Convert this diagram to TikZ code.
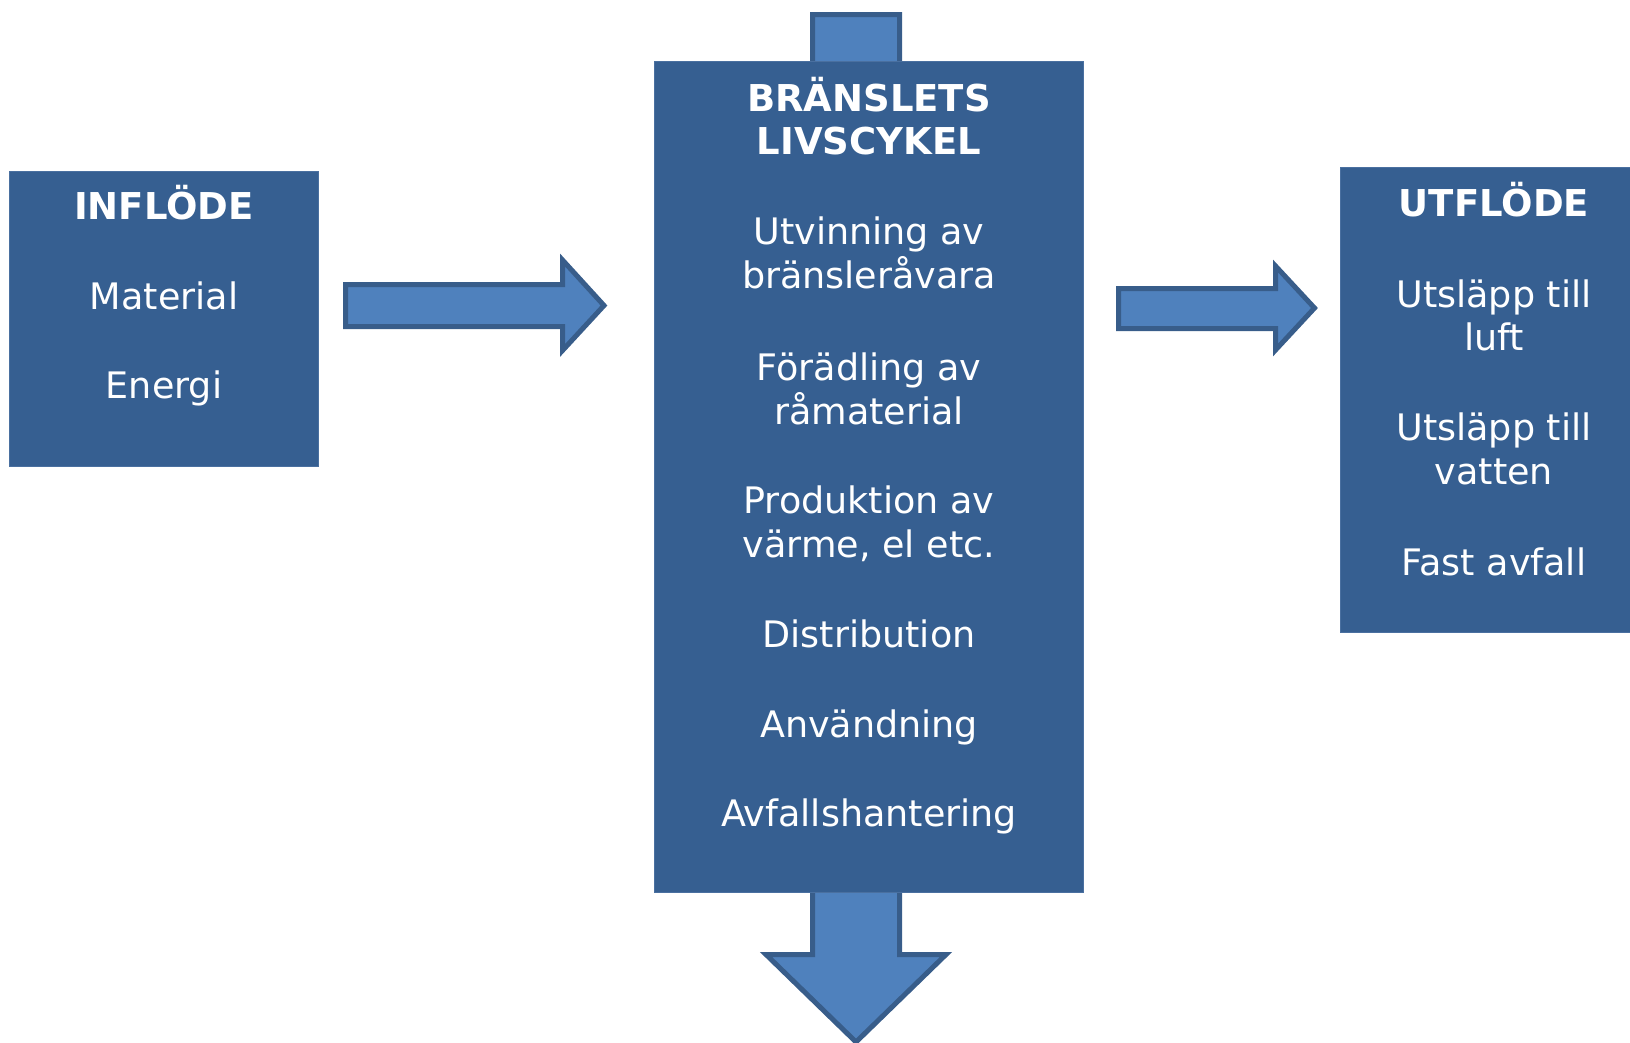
\documentclass[tikz,border=0pt]{standalone}
\usepackage{fontspec}
\setmainfont{DejaVu Sans}
\definecolor{boxblue}{HTML}{365F91}
\definecolor{boxedge}{HTML}{4A70A0}
\definecolor{arrfill}{HTML}{4F81BD}
\definecolor{arredge}{HTML}{385D8A}
\tikzset{
  box/.style={rectangle, fill=boxblue, draw=boxedge, line width=1pt, inner sep=0pt},
  blockarrow/.style={fill=arrfill, draw=arredge, line width=5pt, line join=miter},
  txt/.style={text=white, anchor=base, inner sep=0pt, font=\fontsize{36.5}{44}\selectfont},
  head/.style={txt, font=\fontsize{37}{44}\selectfont\bfseries},
}
\begin{document}
\begin{tikzpicture}[x=1pt,y=-1pt]
\useasboundingbox (0,0) rectangle (1630,1042);
% down arrow behind the centre box
\draw[blockarrow] (812.5,14.5) -- (899.5,14.5) -- (899.5,954.5) -- (946,954.5)
  -- (856,1042) -- (766,954.5) -- (812.5,954.5) -- cycle;
% boxes
\node[box, minimum width=309pt, minimum height=295pt] (in) at (163.5,318.5) {};
\node[box, minimum width=429pt, minimum height=831pt] (mid) at (868.5,476.5) {};
\node[box, minimum width=310pt, minimum height=465pt] (out) at (1495,400) {};
% horizontal block arrows
\draw[blockarrow] (345.5,284.5) -- (562.5,284.5) -- (562.5,260) -- (604,305.5)
  -- (562.5,350.5) -- (562.5,326.5) -- (345.5,326.5) -- cycle;
\draw[blockarrow] (1118.5,288.5) -- (1275.5,288.5) -- (1275.5,266) -- (1314.5,308)
  -- (1275.5,350) -- (1275.5,328.5) -- (1118.5,328.5) -- cycle;
% left texts
\node[head] (inh) at (164,219) {INFLÖDE};
\node[txt] (in1) at (164,309) {Material};
\node[txt] (in2) at (164,398) {Energi};
% centre texts
\node[head] (m0a) at (869,111) {BRÄNSLETS};
\node[head] (m0b) at (869,154) {LIVSCYKEL};
\node[txt] (m1a) at (869,244) {Utvinning av};
\node[txt] (m1b) at (869,288) {bränsleråvara};
\node[txt] (m2a) at (869,380) {Förädling av};
\node[txt] (m2b) at (869,424) {råmaterial};
\node[txt] (m3a) at (869,513) {Produktion av};
\node[txt] (m3b) at (869,557) {värme, el etc.};
\node[txt] (m4) at (869,647) {Distribution};
\node[txt] (m5) at (869,737) {Användning};
\node[txt] (m6) at (869,826) {Avfallshantering};
% right texts
\node[head] (outh) at (1494,216) {UTFLÖDE};
\node[txt] (o1a) at (1494,307) {Utsläpp till};
\node[txt] (o1b) at (1494,350) {luft};
\node[txt] (o2a) at (1494,440) {Utsläpp till};
\node[txt] (o2b) at (1494,484) {vatten};
\node[txt] (o3) at (1494,575) {Fast avfall};
\end{tikzpicture}
\end{document}
